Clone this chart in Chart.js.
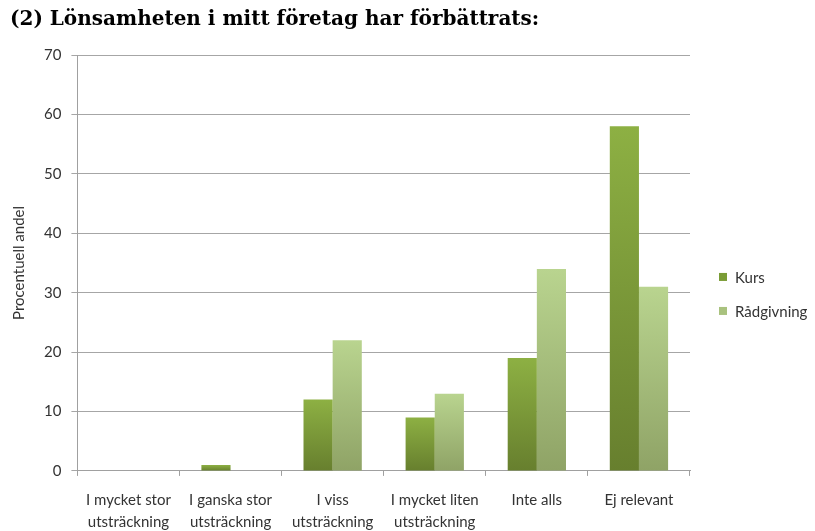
<!DOCTYPE html>
<html><head><meta charset="utf-8">
<script src="https://cdn.jsdelivr.net/npm/chart.js@4/dist/chart.umd.min.js"></script>
<style>html,body{margin:0;padding:0;background:#fff}#wrap{width:815px;height:531px}</style>
</head><body><div id="wrap"><canvas id="c" width="815" height="531"></canvas></div>
<script>
const categories = [["I mycket stor","utsträckning"],["I ganska stor","utsträckning"],["I viss","utsträckning"],["I mycket liten","utsträckning"],["Inte alls",""],["Ej relevant",""]];
const kurs = [0, 1, 12, 9, 19, 58];
const radgivning = [0, 0, 22, 13, 34, 31];
const seriesNames = ["Kurs", "Rådgivning"];
const yTicks = [0, 10, 20, 30, 40, 50, 60, 70];
const legendColors = ['#7a9c35', '#a9c27e'];

function grad(top, bottom) {
  return function(ctx) {
    const chart = ctx.chart;
    const y = chart.scales && chart.scales.y;
    if (!y || ctx.type !== 'data' || ctx.raw == null || !chart.chartArea) return top;
    const yt = y.getPixelForValue(ctx.raw), yb = y.getPixelForValue(0);
    if (!(isFinite(yt) && isFinite(yb)) || yb - yt < 1) return top;
    const g = chart.ctx.createLinearGradient(0, yt, 0, yb);
    g.addColorStop(0, top); g.addColorStop(1, bottom);
    return g;
  };
}

const sideLegend = {
  id: 'sideLegend',
  afterDraw(chart) {
    const { ctx, chartArea } = chart;
    const mid = (chartArea.top + chartArea.bottom) / 2;
    ctx.save();
    ctx.font = '15px Lato';
    ctx.textBaseline = 'middle';
    chart.data.datasets.forEach((d, i) => {
      const cy = mid + 14 + i * 34;
      const x = chartArea.right + 29;
      ctx.fillStyle = legendColors[i];
      ctx.fillRect(x, cy - 4, 8, 8);
      ctx.fillStyle = '#333';
      ctx.fillText(d.label, x + 16, cy + 1);
    });
    ctx.restore();
  }
};

new Chart(document.getElementById('c'), {
  type: 'bar',
  data: {
    labels: categories,
    datasets: [
      { label: seriesNames[0], data: kurs, backgroundColor: grad('#8db043', '#677f2e'), categoryPercentage: 0.571, barPercentage: 1 },
      { label: seriesNames[1], data: radgivning, backgroundColor: grad('#b9d48f', '#8fa366'), categoryPercentage: 0.571, barPercentage: 1 }
    ]
  },
  plugins: [sideLegend],
  options: {
    responsive: false, animation: false,
    layout: { padding: { left: 10, right: 125, top: 4, bottom: -15 } },
    plugins: {
      title: { display: true, text: '(2) Lönsamheten i mitt företag har förbättrats:', align: 'start',
        font: { family: 'DejaVu Serif', size: 20, weight: 'bold', lineHeight: 1.2 }, color: '#000', padding: { top: 4, bottom: 23 } },
      legend: { display: false },
      tooltip: { enabled: false }
    },
    scales: {
      x: {
        grid: { display: true, drawOnChartArea: false, drawTicks: true, tickLength: 5, color: '#a0a0a0' },
        border: { color: '#a0a0a0' },
        ticks: { color: '#333', font: { family: 'Lato', size: 15, lineHeight: 1.47 }, padding: 13, maxRotation: 0, autoSkip: false }
      },
      y: {
        min: 0, max: 70,
        afterBuildTicks: (s) => { s.ticks = yTicks.map(v => ({ value: v })); },
        grid: { color: '#a6a6a6', tickLength: 6 },
        border: { color: '#a0a0a0' },
        ticks: { color: '#333', font: { family: 'Lato', size: 15 }, padding: 10 },
        title: { display: true, text: 'Procentuell andel', color: '#333', font: { family: 'Lato', size: 15, lineHeight: 1.2 }, padding: { top: 0, bottom: 6 } }
      }
    }
  }
});
</script></body></html>
